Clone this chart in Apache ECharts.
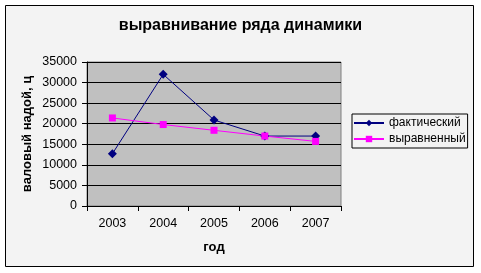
<!DOCTYPE html>
<html><head><meta charset="utf-8">
<script src="https://cdn.jsdelivr.net/npm/echarts@6/dist/echarts.min.js"></script>
<style>html,body{margin:0;padding:0;background:#fff}#c{width:481px;height:273px}</style>
</head><body><div id="c"></div>
<script>
const categories = ['2003','2004','2005','2006','2007'];
const actual = [12700, 32000, 20900, 17000, 17000];
const aligned = [21400, 19800, 18400, 17000, 15700];
const yTicks = {min:0, max:35000, interval:5000};
const titleText = 'выравнивание ряда динамики';
const yName = 'валовый надой, ц';
const xName = 'год';
const seriesNames = ['фактический','выравненный'];

const chart = echarts.init(document.getElementById('c'), null, {renderer:'canvas'});
const font = 'Liberation Sans, Arial, sans-serif';
chart.setOption({
  animation:false,
  backgroundColor:'#ffffff',
  graphic:[
    {type:'rect', shape:{x:5.5,y:5.5,width:468,height:261}, style:{fill:'#f3f3f3',stroke:'#000',lineWidth:1}, z:-10},
    {type:'rect', shape:{x:87,y:62,width:254,height:144}, style:{fill:'#c0c0c0',stroke:'#808080',lineWidth:1}, z:-5}
  ],
  title:{text:titleText, left:'center', top:13, textStyle:{fontFamily:font, fontSize:16, fontWeight:'bold', color:'#000'}},
  grid:{left:87, top:62, width:254, height:144},
  legend:{
    orient:'vertical', left:352, top:114, itemWidth:30, itemHeight:8, itemGap:4, itemStyle:{},
    padding:[3,2,3,1], borderColor:'#000', borderWidth:1, backgroundColor:'#f3f3f3',
    textStyle:{fontFamily:font, fontSize:12, color:'#000'},
    data:seriesNames
  },
  xAxis:{
    type:'category', data:categories, boundaryGap:true,
    name:xName, nameLocation:'middle', nameGap:35, nameMoveOverlap:false,
    nameTextStyle:{fontFamily:font, fontSize:13, fontWeight:'bold', color:'#000'},
    axisLine:{lineStyle:{color:'#000'}},
    axisTick:{show:true, alignWithLabel:false, length:5, lineStyle:{color:'#000'}},
    axisLabel:{fontFamily:font, fontSize:12.5, color:'#000', margin:11}
  },
  yAxis:{
    type:'value', min:yTicks.min, max:yTicks.max, interval:yTicks.interval,
    name:yName, nameLocation:'middle', nameGap:53, nameRotate:90, nameMoveOverlap:false,
    nameTextStyle:{fontFamily:font, fontSize:13, fontWeight:'bold', color:'#000'},
    axisLine:{show:true, lineStyle:{color:'#000'}},
    axisTick:{show:true, length:5, lineStyle:{color:'#000'}},
    axisLabel:{fontFamily:font, fontSize:12.5, color:'#000', margin:10, formatter:v=>String(v)},
    splitLine:{show:true, lineStyle:{color:'#000', width:1}}
  },
  series:[
    {name:seriesNames[0], type:'line', data:actual, color:'#000080',
     symbol:'diamond', symbolSize:9, lineStyle:{width:1, color:'#000080'},
     itemStyle:{color:'#000080'}},
    {name:seriesNames[1], type:'line', data:aligned, color:'#ff00ff',
     symbol:'rect', symbolSize:7, lineStyle:{width:1, color:'#ff00ff'},
     itemStyle:{color:'#ff00ff'}}
  ]
});
</script></body></html>
